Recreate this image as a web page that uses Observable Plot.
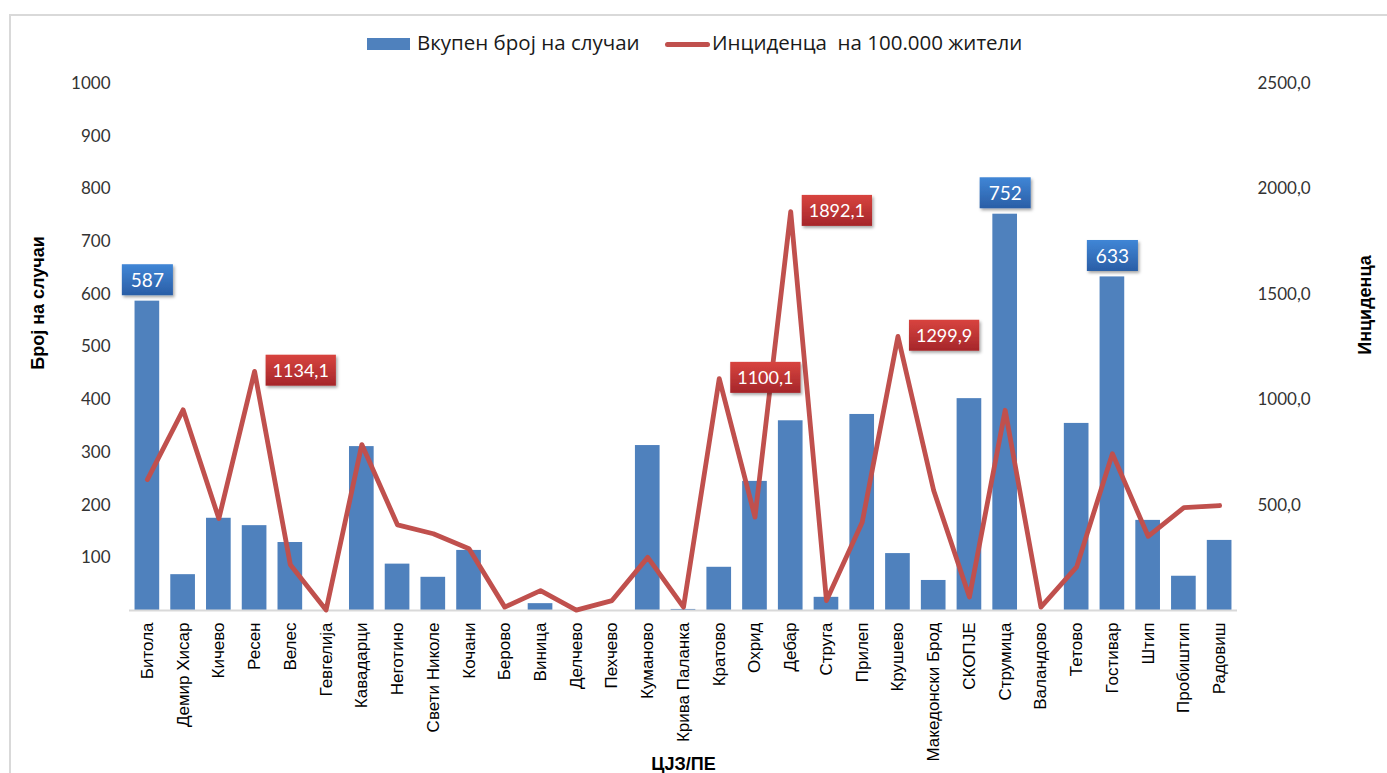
<!DOCTYPE html>
<html>
<head>
<meta charset="utf-8">
<script src="https://cdn.jsdelivr.net/npm/d3@7"></script>
<script src="https://cdn.jsdelivr.net/npm/@observablehq/plot@0.6"></script>
<style>
  body { margin: 0; background: #fff; overflow: hidden; }
  #wrap { position: relative; width: 1387px; height: 773px; overflow: hidden; }
  #frame { position: absolute; left: 9px; top: 14px; width: 1500px; height: 900px; border: 2px solid #d9d9d9; box-sizing: border-box; }
  #legend { position: relative; height: 65px; font-family: "Open Sans", sans-serif; font-size: 20.5px; color: #1a1a1a; }
  #legend .sw { position: absolute; }
  #legend .tx { position: absolute; top: 31px; line-height: 22px; white-space: pre; }
  #chart { position: relative; }
</style>
</head>
<body>
<div id="wrap">
  <div id="frame"></div>
  <div id="legend">
    <div class="sw" style="left:367px;top:38px;width:43px;height:12px;background:#4f81bd"></div>
    <div class="tx" id="leg1" style="left:417px"></div>
    <div class="sw" style="left:665px;top:41.5px;width:45px;height:5px;border-radius:2.5px;background:#c0504d"></div>
    <div class="tx" id="leg2" style="left:712px"></div>
  </div>
  <div id="chart"></div>
</div>
<script>
// ---- data ----
const names = ["Битола","Демир Хисар","Кичево","Ресен","Велес","Гевгелија","Кавадарци","Неготино","Свети Николе","Кочани","Берово","Виница","Делчево","Пехчево","Куманово","Крива Паланка","Кратово","Охрид","Дебар","Струга","Прилеп","Крушево","Македонски Брод","СКОПЈЕ","Струмица","Валандово","Тетово","Гостивар","Штип","Пробиштип","Радовиш"];
const counts = [587,68,175,161,129,0,311,88,63,114,0,13,0,0,313,2,82,245,360,25,372,108,57,402,752,0,355,633,171,65,133];
const incidence = [621,952,436,1134.1,217,2,787,406,364,293,16,94,2,47,252,16,1100.1,443,1892.1,47,419,1299.9,569,64,950,16,207,744,352,488,498];
const countLabelled = ["Битола","Струмица","Гостивар"];
const incLabelled = ["Ресен","Кратово","Дебар","Крушево"];
const leftTicks = [100,200,300,400,500,600,700,800,900,1000];
const rightTicks = [500,1000,1500,2000,2500];
const seriesNames = ["Вкупен број на случаи","Инциденца  на 100.000 жители"];
const axisTitles = {left: "Број на случаи", right: "Инциденца", bottom: "ЦЈЗ/ПЕ"};
const ratio = 2.5; // right axis max 2500 vs left 1000

document.getElementById("leg1").textContent = seriesNames[0];
document.getElementById("leg2").textContent = seriesNames[1];

const data = names.map((name, i) => ({name, count: counts[i], inc: incidence[i]}));
const fmtInc = v => v.toFixed(1).replace(".", ",");

const plot = Plot.plot({
  width: 1387,
  height: 708,
  marginTop: 18,
  marginBottom: 163,
  marginLeft: 129,
  marginRight: 150,
  style: {fontFamily: "Lato, sans-serif", fontSize: "17px", color: "#333", background: "transparent"},
  x: {domain: names, paddingInner: 0.31, paddingOuter: 0.155, align: 0.5, round: false},
  y: {domain: [0, 1000]},
  marks: [
    Plot.barY(data, {x: "name", y: "count", fill: "#4f81bd"}),
    Plot.ruleY([0], {stroke: "#d9d9d9", strokeWidth: 2}),
    Plot.axisX({tickRotate: -90, tickSize: 0, tickPadding: 12, fontSize: 17, fontFamily: "Liberation Sans, Arial, sans-serif", fill: "#000", label: null}),
    Plot.axisY({ticks: leftTicks, tickFormat: d => String(d), tickSize: 0, tickPadding: 19, label: null, fontSize: 17, fill: "#333"}),
    Plot.axisY({anchor: "right", ticks: rightTicks.map(v => v / ratio), tickFormat: d => fmtInc(d * ratio), tickSize: 0, tickPadding: 20, label: null, fontSize: 17, fill: "#333"}),
    Plot.line(data, {x: "name", y: d => d.inc / ratio, stroke: "#c0504d", strokeWidth: 4.8, strokeLinejoin: "round", strokeLinecap: "round"}),
    Plot.text(data.filter(d => countLabelled.includes(d.name)), {x: "name", y: "count", text: d => String(d.count), dy: -20, fill: "white", fontSize: 19, fontFamily: "Lato, sans-serif", lineAnchor: "middle"}),
    Plot.text(data.filter(d => incLabelled.includes(d.name)), {x: "name", y: d => d.inc / ratio, text: d => fmtInc(d.inc), dx: 18, textAnchor: "start", fill: "white", fontSize: 18, fontFamily: "Lato, sans-serif", lineAnchor: "middle"}),
    Plot.text([axisTitles.left], {text: d => d, frameAnchor: "left", textAnchor: "middle", dx: -91, dy: -44, rotate: -90, fontWeight: "bold", fontSize: 18, fontFamily: "Liberation Sans, Arial, sans-serif", fill: "#000"}),
    Plot.text([axisTitles.right], {text: d => d, frameAnchor: "right", textAnchor: "middle", dx: 128, dy: -42, rotate: -90, fontWeight: "bold", fontSize: 18, fontFamily: "Liberation Sans, Arial, sans-serif", fill: "#000"}),
    Plot.text([axisTitles.bottom], {text: d => d, frameAnchor: "bottom", dy: 154, lineAnchor: "middle", fontWeight: "bold", fontSize: 18, fontFamily: "Liberation Sans, Arial, sans-serif", fill: "#000"})
  ]
});
document.getElementById("chart").append(plot);

// ---- label boxes (gradient + shadow), drawn behind the data labels ----
const svg = d3.select(plot);
const defs = svg.insert("defs", ":first-child");
function grad(id, c1, c2) {
  const g = defs.append("linearGradient").attr("id", id).attr("x1", 0).attr("y1", 0).attr("x2", 0).attr("y2", 1);
  g.append("stop").attr("offset", "0%").attr("stop-color", c1);
  g.append("stop").attr("offset", "100%").attr("stop-color", c2);
}
grad("gBlue", "#4086d6", "#2a5ea6");
grad("gRed", "#d8443f", "#a5262a");
const f = defs.append("filter").attr("id", "shadow").attr("x", "-20%").attr("y", "-20%").attr("width", "150%").attr("height", "160%");
f.append("feDropShadow").attr("dx", 1.5).attr("dy", 2).attr("stdDeviation", 1.5).attr("flood-color", "#000").attr("flood-opacity", 0.35);

const textGroups = plot.querySelectorAll('g[aria-label="text"]');
function boxify(group, fillId, padX) {
  group.querySelectorAll("text").forEach(t => {
    const bb = t.getBBox();
    const cy = bb.y + bb.height / 2;
    const r = document.createElementNS("http://www.w3.org/2000/svg", "rect");
    r.setAttribute("x", bb.x - padX);
    r.setAttribute("y", cy - 15.5);
    r.setAttribute("width", bb.width + 2 * padX);
    r.setAttribute("height", 31);
    r.setAttribute("fill", `url(#${fillId})`);
    r.setAttribute("filter", "url(#shadow)");
    const tr = t.getAttribute("transform");
    if (tr) r.setAttribute("transform", tr);
    t.parentNode.insertBefore(r, t);
  });
}
if (textGroups[0]) boxify(textGroups[0], "gBlue", 9);
if (textGroups[1]) boxify(textGroups[1], "gRed", 7);
</script>
</body>
</html>
